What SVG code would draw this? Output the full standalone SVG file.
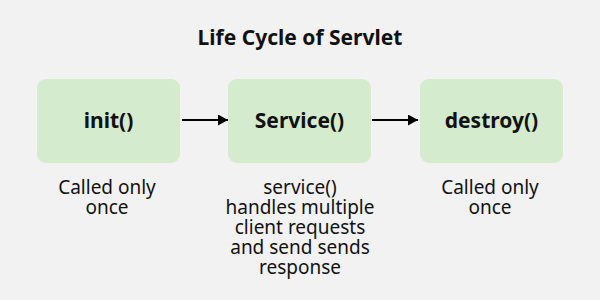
<svg xmlns="http://www.w3.org/2000/svg" width="600" height="300" viewBox="0 0 600 300">
<defs>
<style>
.box{fill:#d5ebcd;}
.lbl{font-family:"Noto Sans","Open Sans",sans-serif;font-weight:bold;font-size:21px;fill:#111;text-anchor:middle;}
.desc{font-family:"Noto Sans","Open Sans",sans-serif;font-size:19px;fill:#111;text-anchor:middle;}
.title{font-family:"Noto Sans","Open Sans",sans-serif;font-weight:bold;font-size:21px;fill:#111;text-anchor:middle;}
.conn{stroke:#000;stroke-width:2;fill:none;}
</style>
<marker id="ah" viewBox="0 0 10 11" refX="10" refY="5.5" markerWidth="10" markerHeight="11" markerUnits="userSpaceOnUse" orient="auto">
<path d="M0,0 L10,5.5 L0,11 Z" fill="#000"/>
</marker>
</defs>
<rect width="600" height="300" fill="#f2f2f2"/>
<text class="title" x="300" y="45">Life Cycle of Servlet</text>
<g id="init">
<rect class="box" x="37" y="79" width="143" height="84" rx="9"/>
<text class="lbl" x="108.5" y="128">init()</text>
<text class="desc" x="107" y="194">Called only</text>
<text class="desc" x="107" y="214">once</text>
</g>
<g id="service">
<rect class="box" x="228" y="79" width="143" height="84" rx="9"/>
<text class="lbl" x="299.5" y="128">Service()</text>
<text class="desc" x="300" y="194">service()</text>
<text class="desc" x="300" y="214">handles multiple</text>
<text class="desc" x="300" y="234">client requests</text>
<text class="desc" x="300" y="254">and send sends</text>
<text class="desc" x="300" y="274">response</text>
</g>
<g id="destroy">
<rect class="box" x="420" y="79" width="143" height="84" rx="9"/>
<text class="lbl" x="491.5" y="128">destroy()</text>
<text class="desc" x="490" y="194">Called only</text>
<text class="desc" x="490" y="214">once</text>
</g>
<g id="connectors">
<line class="conn" x1="182" y1="120" x2="228" y2="120" marker-end="url(#ah)"/>
<line class="conn" x1="372" y1="120" x2="418" y2="120" marker-end="url(#ah)"/>
</g>
</svg>
